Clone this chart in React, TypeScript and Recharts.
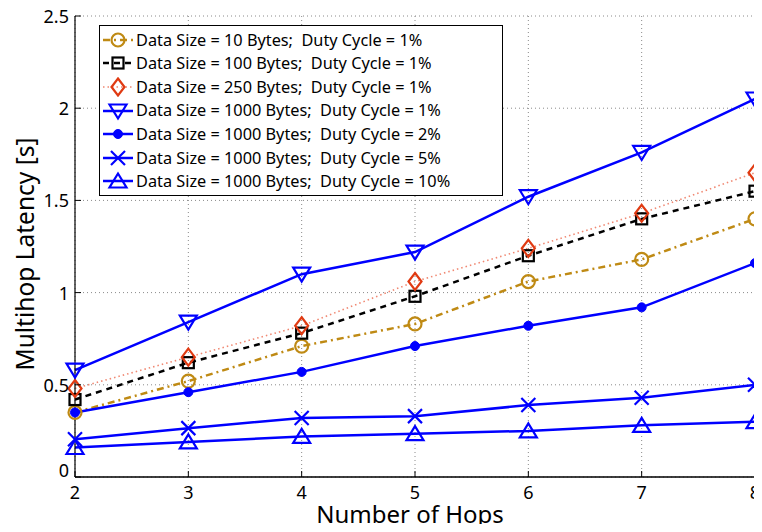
import React from "react";
import { LineChart, Line, XAxis, YAxis, CartesianGrid, ReferenceLine } from "recharts";

// Number of hops on the x axis
const hops = [2, 3, 4, 5, 6, 7, 8];

// Multihop latency in seconds for each configuration
const size10dc1 = [0.35, 0.52, 0.71, 0.83, 1.06, 1.18, 1.4];
const size100dc1 = [0.42, 0.62, 0.78, 0.98, 1.2, 1.4, 1.55];
const size250dc1 = [0.48, 0.65, 0.82, 1.06, 1.24, 1.43, 1.65];
const size1000dc1 = [0.58, 0.84, 1.1, 1.22, 1.52, 1.76, 2.05];
const size1000dc2 = [0.35, 0.46, 0.57, 0.71, 0.82, 0.92, 1.16];
const size1000dc5 = [0.205, 0.265, 0.32, 0.33, 0.39, 0.43, 0.5];
const size1000dc10 = [0.16, 0.19, 0.22, 0.235, 0.25, 0.28, 0.3];

const xTicks = [2, 3, 4, 5, 6, 7, 8];
const yTicks = [0, 0.5, 1, 1.5, 2, 2.5];
const yTickLabels = ["0", "0.5", "1", "1.5", "2", "2.5"];

type Shape = "circle" | "square" | "diamond" | "triDown" | "dot" | "cross" | "triUp";

interface SeriesDef {
  key: string;
  name: string;
  values: number[];
  color: string;
  lineColor: string;
  width: number;
  dash?: string;
  shape: Shape;
}

const series: SeriesDef[] = [
  { key: "s10", name: "Data Size = 10 Bytes;  Duty Cycle = 1%", values: size10dc1, color: "#BF8A14", lineColor: "#BF8A14", width: 2.5, dash: "7 4 2 4", shape: "circle" },
  { key: "s100", name: "Data Size = 100 Bytes;  Duty Cycle = 1%", values: size100dc1, color: "#000000", lineColor: "#000000", width: 2.5, dash: "6 5", shape: "square" },
  { key: "s250", name: "Data Size = 250 Bytes;  Duty Cycle = 1%", values: size250dc1, color: "#E03A12", lineColor: "#F08872", width: 1.6, dash: "1.5 3", shape: "diamond" },
  { key: "s1000a", name: "Data Size = 1000 Bytes;  Duty Cycle = 1%", values: size1000dc1, color: "#0000FF", lineColor: "#0000FF", width: 2.5, shape: "triDown" },
  { key: "s1000b", name: "Data Size = 1000 Bytes;  Duty Cycle = 2%", values: size1000dc2, color: "#0000FF", lineColor: "#0000FF", width: 2.5, shape: "dot" },
  { key: "s1000c", name: "Data Size = 1000 Bytes;  Duty Cycle = 5%", values: size1000dc5, color: "#0000FF", lineColor: "#0000FF", width: 2.5, shape: "cross" },
  { key: "s1000d", name: "Data Size = 1000 Bytes;  Duty Cycle = 10%", values: size1000dc10, color: "#0000FF", lineColor: "#0000FF", width: 2.5, shape: "triUp" },
];

const data = hops.map((h, i) => {
  const row: Record<string, number> = { hops: h };
  series.forEach((s) => {
    row[s.key] = s.values[i];
  });
  return row;
});

const FONT = "'Noto Sans', 'DejaVu Sans', sans-serif";

function Marker({ shape, cx, cy, color }: { shape: Shape; cx: number; cy: number; color: string }) {
  const sw = 2.2;
  switch (shape) {
    case "circle":
      return <circle cx={cx} cy={cy} r={6.5} fill="none" stroke={color} strokeWidth={sw} />;
    case "square":
      return <rect x={cx - 5.5} y={cy - 5.5} width={11} height={11} fill="none" stroke={color} strokeWidth={sw} />;
    case "diamond":
      return (
        <polygon
          points={`${cx},${cy - 8.5} ${cx + 6.5},${cy} ${cx},${cy + 8.5} ${cx - 6.5},${cy}`}
          fill="none"
          stroke={color}
          strokeWidth={sw}
        />
      );
    case "triDown":
      return (
        <polygon
          points={`${cx - 8.5},${cy - 6.5} ${cx + 8.5},${cy - 6.5} ${cx},${cy + 7.5}`}
          fill="none"
          stroke={color}
          strokeWidth={sw}
        />
      );
    case "triUp":
      return (
        <polygon
          points={`${cx - 8.5},${cy + 6.5} ${cx + 8.5},${cy + 6.5} ${cx},${cy - 7.5}`}
          fill="none"
          stroke={color}
          strokeWidth={sw}
        />
      );
    case "dot":
      return <circle cx={cx} cy={cy} r={4.5} fill={color} stroke={color} strokeWidth={1} />;
    case "cross":
      return (
        <g stroke={color} strokeWidth={sw}>
          <line x1={cx - 7} y1={cy - 7} x2={cx + 7} y2={cy + 7} />
          <line x1={cx - 7} y1={cy + 7} x2={cx + 7} y2={cy - 7} />
        </g>
      );
  }
  return null;
}

const PLOT_BOTTOM = 477;
const PLOT_TOP = 16;
const PLOT_LEFT = 75;
const PLOT_RIGHT = 755;

function BottomTick(props: any) {
  const { x, payload } = props;
  return (
    <g>
      <line x1={x} x2={x} y1={PLOT_BOTTOM} y2={PLOT_BOTTOM - 6} stroke="#000" strokeWidth={1} />
      <text x={x} y={PLOT_BOTTOM + 22} textAnchor="middle" fontFamily={FONT} fontSize={18} fill="#000">
        {payload.value}
      </text>
    </g>
  );
}

function TopTick(props: any) {
  const { x } = props;
  return <line x1={x} x2={x} y1={PLOT_TOP} y2={PLOT_TOP + 6} stroke="#000" strokeWidth={1} />;
}

function LeftTick(props: any) {
  const { y, payload } = props;
  return (
    <g>
      <line x1={PLOT_LEFT} x2={PLOT_LEFT + 6} y1={y} y2={y} stroke="#000" strokeWidth={1} />
      <text
        x={PLOT_LEFT - 6}
        y={y + (payload.value === 0 ? 0 : 7)}
        textAnchor="end"
        fontFamily={FONT}
        fontSize={18}
        fill="#000"
      >
        {yTickLabels[yTicks.indexOf(payload.value)]}
      </text>
    </g>
  );
}

function RightTick(props: any) {
  const { y } = props;
  return <line x1={PLOT_RIGHT} x2={PLOT_RIGHT - 6} y1={y} y2={y} stroke="#000" strokeWidth={1} />;
}

const XTitle = () => (
  <text x={410} y={523} textAnchor="middle" fontFamily={FONT} fontSize={24} fill="#000">
    Number of Hops
  </text>
);

const YTitle = () => (
  <text
    transform="translate(34, 254) rotate(-90)"
    textAnchor="middle"
    fontFamily={FONT}
    fontSize={24.5}
    fill="#000"
  >
    Multihop Latency [s]
  </text>
);

function LegendBox() {
  return (
    <div
      style={{
        position: "absolute",
        left: 99,
        top: 25,
        width: 402,
        height: 167,
        border: "1.5px solid #000",
        background: "#fff",
        boxSizing: "content-box",
        paddingTop: 2,
      }}
    >
      {series.map((s) => (
        <div key={s.key} style={{ display: "flex", alignItems: "center", height: 23.6 }}>
          <svg width={36} height={20} style={{ flex: "none" }}>
            <line x1={3} x2={33} y1={10} y2={10} stroke={s.lineColor} strokeWidth={s.width} strokeDasharray={s.dash} />
            <Marker shape={s.shape} cx={18} cy={10} color={s.color} />
          </svg>
          <span
            style={{
              fontFamily: FONT,
              fontSize: 16.3,
              whiteSpace: "pre",
              color: "#000",
              lineHeight: 1,
            }}
          >
            {s.name}
          </span>
        </div>
      ))}
    </div>
  );
}

export default function App() {
  return (
    <div style={{ position: "relative", width: 762, height: 532, margin: -8, background: "#fff" }}>
      <LineChart width={762} height={532} data={data} margin={{ top: PLOT_TOP, right: 762 - PLOT_RIGHT, bottom: 0, left: 0 }}>
        <CartesianGrid stroke="#8a8a8a" strokeDasharray="1 3" strokeWidth={1} />
        <XAxis
          dataKey="hops"
          type="number"
          domain={[2, 8]}
          ticks={xTicks}
          height={532 - PLOT_BOTTOM}
          axisLine={{ stroke: "#000", strokeWidth: 1.2 }}
          tickLine={false}
          tickSize={0}
          tickMargin={0}
          tick={<BottomTick />}
          interval={0}
          label={{ content: () => <XTitle /> }}
        />
        <XAxis
          xAxisId="top"
          dataKey="hops"
          type="number"
          orientation="top"
          domain={[2, 8]}
          ticks={xTicks}
          height={0}
          axisLine={{ stroke: "#000", strokeWidth: 1.2 }}
          tickLine={false}
          tickSize={0}
          tick={<TopTick />}
          interval={0}
        />
        <YAxis
          type="number"
          domain={[0, 2.5]}
          ticks={yTicks}
          width={PLOT_LEFT}
          axisLine={{ stroke: "#000", strokeWidth: 1.2 }}
          tickLine={false}
          tickSize={0}
          tickMargin={0}
          tick={<LeftTick />}
          interval={0}
          label={{ content: () => <YTitle /> }}
        />
        <YAxis
          yAxisId="right"
          orientation="right"
          type="number"
          domain={[0, 2.5]}
          ticks={yTicks}
          width={0}
          axisLine={{ stroke: "#000", strokeWidth: 1.2 }}
          tickLine={false}
          tickSize={0}
          tick={<RightTick />}
          interval={0}
        />
        {series.map((s) => (
          <Line
            key={s.key}
            type="linear"
            dataKey={s.key}
            name={s.name}
            stroke={s.lineColor}
            strokeWidth={s.width}
            strokeDasharray={s.dash}
            isAnimationActive={false}
            dot={(p: any) => <Marker key={`${s.key}-${p.index}`} shape={s.shape} cx={p.cx} cy={p.cy} color={s.color} />}
            activeDot={false}
          />
        ))}
        <ReferenceLine y={0} stroke="#000" strokeWidth={1.2} />
      </LineChart>
      <LegendBox />
    </div>
  );
}
